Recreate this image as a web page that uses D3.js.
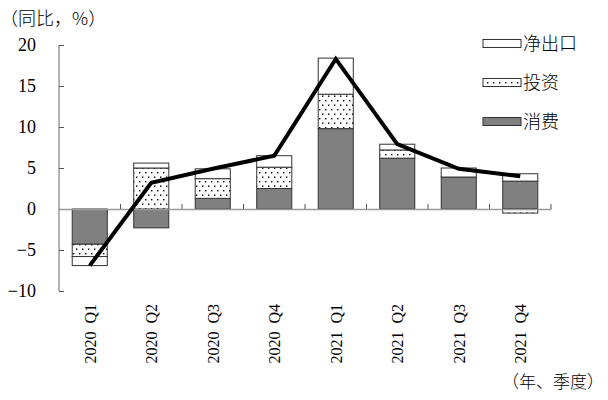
<!DOCTYPE html>
<html><head><meta charset="utf-8">
<script src="https://cdn.jsdelivr.net/npm/d3@7"></script>
<style>
body{margin:0;background:#fff;}
svg text{font-family:"Liberation Serif","DejaVu Serif","Noto Sans CJK SC",serif;}
.cjk{font-family:"Noto Sans CJK SC","Liberation Serif",sans-serif;font-weight:300;}
</style></head>
<body><svg id="c" width="608" height="400"></svg>
<script>
const categories = ["2020  Q1","2020  Q2","2020  Q3","2020  Q4","2021  Q1","2021  Q2","2021  Q3","2021  Q4"];
const consumption = [-4.3, -2.3, 1.3, 2.5, 9.8, 6.2, 3.9, 3.4];
const investment  = [-1.5, 5.0, 2.4, 2.6, 4.2, 1.0, 0.0, -0.5];
const netExports  = [-1.1, 0.6, 1.2, 1.4, 4.4, 0.7, 1.1, 0.9];
const gdp         = [-6.9, 3.2, 4.9, 6.5, 18.3, 7.9, 4.9, 4.0];
const seriesNames = ["消费","投资","净出口"];
const yTicks = [-10,-5,0,5,10,15,20];

const svg = d3.select("#c");
const defs = svg.append("defs");
const pat = defs.append("pattern").attr("id","dots").attr("patternUnits","userSpaceOnUse")
  .attr("width",6).attr("height",9);
pat.append("rect").attr("width",6).attr("height",9).attr("fill","#fff");
pat.append("rect").attr("x",1).attr("y",1).attr("width",1.4).attr("height",1.4).attr("fill","#000");
pat.append("rect").attr("x",4).attr("y",5.5).attr("width",1.4).attr("height",1.4).attr("fill","#000");

const fills = {"消费":"#808080","投资":"url(#dots)","净出口":"#fff"};

const x = d3.scaleBand().domain(categories).range([59,551]).paddingInner(0.43).paddingOuter(0.215);
const y = d3.scaleLinear().domain([-10,20]).range([291,45]);

const rows = categories.map((c,i)=>({cat:c,"消费":consumption[i],"投资":investment[i],"净出口":netExports[i]}));
const stack = d3.stack().keys(seriesNames).offset(d3.stackOffsetDiverging);
const stacked = stack(rows);

const g = svg.append("g");
stacked.forEach(s=>{
  g.append("g").selectAll("rect").data(s).join("rect")
    .attr("x",d=>x(d.data.cat))
    .attr("width",x.bandwidth())
    .attr("y",d=>y(Math.max(d[0],d[1])))
    .attr("height",d=>Math.abs(y(d[0])-y(d[1])))
    .attr("fill",fills[s.key])
    .attr("stroke","#333").attr("stroke-width",1)
    .style("display",d=>Math.abs(d[1]-d[0])<1e-9?"none":null);
});

// axes
const axisColor = "#9a9a9a";
const yAxis = svg.append("g").attr("transform","translate(59,0)")
  .call(d3.axisRight(y).tickValues(yTicks).tickSize(5).tickFormat(""));
yAxis.select(".domain").attr("stroke",axisColor).attr("stroke-width",1.5).attr("d","M0,45V291");
yAxis.selectAll(".tick line").attr("stroke","#555");
svg.append("g").selectAll("text").data(yTicks).join("text")
  .attr("x",36).attr("y",d=>y(d)).attr("dy","0.35em")
  .attr("text-anchor","end").attr("font-size",18)
  .text(d=>d<0?"\u2212"+Math.abs(d):d);

const xAxis = svg.append("g").attr("transform",`translate(0,${y(0)})`)
  .call(d3.axisTop(x).tickSize(0).tickFormat(""));
xAxis.select(".domain").attr("stroke",axisColor).attr("stroke-width",1.5);
const step = x.step();
const bounds = d3.range(1,categories.length+1).map(i=>x.range()[0]+i*step);
svg.append("g").selectAll("line").data(bounds).join("line")
  .attr("x1",d=>d).attr("x2",d=>d).attr("y1",y(0)).attr("y2",y(0)-5)
  .attr("stroke","#555");

// category labels
svg.append("g").selectAll("text").data(categories).join("text")
  .attr("transform",d=>`translate(${x(d)+x.bandwidth()/2+6},304) rotate(-90)`)
  .attr("text-anchor","end").attr("font-size",16)
  .style("white-space","pre")
  .text(d=>d);

// line
const line = d3.line().x((d,i)=>x(categories[i])+x.bandwidth()/2).y(d=>y(d));
svg.append("path").datum(gdp).attr("d",line).attr("fill","none")
  .attr("stroke","#000").attr("stroke-width",4).attr("stroke-linejoin","miter");

// legend
const legendItems = ["净出口","投资","消费"];
const lg = svg.append("g");
legendItems.forEach((k,i)=>{
  const cy = 43.5 + i*39;
  lg.append("rect").attr("x",483).attr("y",cy-4).attr("width",38).attr("height",8)
    .attr("fill",fills[k]).attr("stroke","#333").attr("stroke-width",1);
  lg.append("text").attr("class","cjk").attr("x",523).attr("y",cy+6)
    .attr("font-size",18).text(k);
});

svg.append("text").attr("class","cjk").attr("x",0).attr("y",25).attr("font-size",18).text("（同比，%）");
svg.append("text").attr("class","cjk").attr("x",604).attr("y",388).attr("font-size",17)
  .attr("text-anchor","end").text("（年、季度）");
</script></body></html>
